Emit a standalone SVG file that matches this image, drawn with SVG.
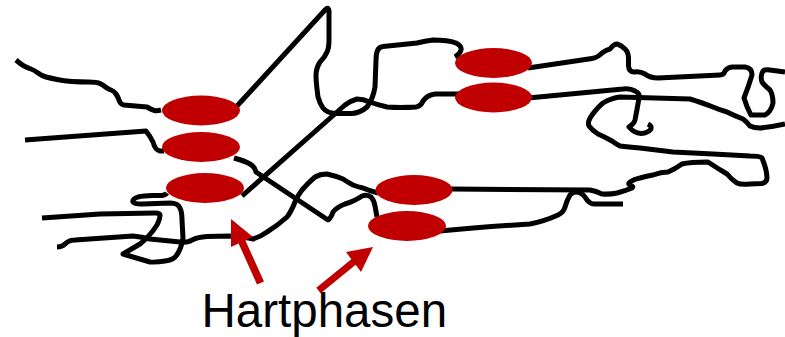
<svg xmlns="http://www.w3.org/2000/svg" width="785" height="337" viewBox="0 0 785 337">
  <style>
    .fibre { fill: none; stroke: #000; stroke-width: 5; stroke-linejoin: round; stroke-linecap: butt; }
    .hard { fill: #c00000; }
    .label { font-family: "Liberation Sans", Arial, sans-serif; font-size: 47.500px; fill: #000; }
  </style>
  <rect width="785" height="337" fill="#fff"/>
  <g id="connectors">
    <path class="fibre" d="M16 60 L19 62.500 Q22 65 25 66.500 Q28 68 31 69 Q34 70 38 73 Q42 76 46 77 Q50 78 57 79.500 Q64 81 72 81.500 Q80 82 88.500 82 Q97 82 100 83.500 Q103 85 105.500 87 Q108 89 111 90 Q114 91 116 94 Q118 97 119 100 Q120 104 124 105 L147 107 Q152 110 154.500 110.500 Q157 111 161 110"/>
    <path class="fibre" d="M25 140 L146 131 Q150 136 153 142 Q155 150 160 151 L164 151"/>
    <path class="fibre" d="M237 106 L325 10 Q328 6 329 11 L329 40 Q329 48 327 52 Q325 57 320 62 Q316 68 316 76 Q316 82 318 97 Q320 104 323 108 Q327 113 335 113.500 L352 113.500 Q360 113 367 107 Q373 99 375 87 L376 60 Q376 47 383 46.500 L417 43 Q425 41 433 40 Q448 40 456 43 Q462 46 461 50 Q460 54 455 57"/>
    <path class="fibre" d="M242 196 L345 105 Q350 101 357 99 Q363 99 370 102 Q378 105 387 107 Q400 108 416 107 Q421 106 423 101 Q427 95 435 94 L460 94"/>
    <path class="fibre" d="M234 158 Q245 161 250 164 Q255 167 256 172 L328 220 Q331 218 333 212 Q337 207 345 204 Q355 201 362 196 Q367 194 371 197 Q374 200 375 206 L377 217"/>
    <path class="fibre" d="M167 193 Q165 196 157 195.500 Q145 195 138 197 Q132 199 133 202 Q135 204.500 143 204 L170 203 Q178 203 180 208 Q182 212 182 220 L183 238 Q181 250 176 256 Q173 260 165 261 Q157 262.500 150 262 Q140 259 123 254 L140 244 Q150 236 157 225 Q160 219 160 215 Q160 213 155 213 L100 214 L42 218"/>
    <path class="fibre" d="M57 247 Q62 247 65 244 Q69 240 75 240 L133 236 Q142 237 150 239 L180 242 Q188 243 192 240 Q198 237 207 236.500 L230 236 Q245 237 253 239 Q260 237 267 232 Q277 226 287 217 Q291 212 295 202 Q298 195 302 190 Q309 182 315 177 Q320 174 327 174 Q336 176 343 179 Q349 183 353 185 Q358 187 363 188 Q370 191 378 193"/>
    <path class="fibre" d="M450 189 L590 190 Q596 191 602 194 Q610 194.500 617 193 Q625 191 632 188 Q634 186 631 186 Q627 184 630 182 Q634 179 640 178 Q647 176 653 175 Q661 172 668 172 Q675 169 682 164 Q690 162 708 162 Q717 168 727 174 Q732 180 737 183 Q741 185 750 184 L762 183.500 Q767 182 767 178 Q767 170 762 158 Q760 156 750 156 L713 154 L673 152 L640 148 Q628 147 620 146 Q616 144 612 141 Q605 137 598 134 Q592 130 589 126 Q587 122 592 115 Q598 107 603 103 Q611 98 620 97 L690 99 Q700 102 713 107 Q720 110 727 112 Q735 116 743 119 Q747 122 750 126 Q754 128 760 128 Q772 127 785 124"/>
    <path class="fibre" d="M528 68 L592 58.500 Q597 58 602 53 Q606 50 610 49 Q614 44 617 44 Q621 45 625 49 Q629 53 628.500 60 L628.500 66 Q629 72 634 72 Q640 71 645 74 Q650 78 658 78 L720 75 Q724 75 725 71 Q728 67 733 67 L745 67 Q752 68 752 75 Q748 88 744 98 Q747 108 751 115 L765 115 Q771 112 773 103 Q773 95 770 90 Q764 85 762 82 Q760 76 763 71 Q765 69 770 70 L785 72"/>
    <path class="fibre" d="M528 98 L623 89 Q630 88 635 91 Q640 93 639 98 Q637 110 635 120 Q634 124 629 127 Q634 133 641 133.500 Q648 133 651 129 Q652 126 648 124"/>
    <path class="fibre" d="M440 231 Q480 227 530 224 Q545 221 558 215 Q564 212 565 207 Q567 200 570 195 Q573 192 576 192 Q581 192 585 197 Q589 204 594 204 L623 204"/>
  </g>
  <g id="hard-phase-1"><ellipse class="hard" cx="201" cy="110.500" rx="39" ry="15"/></g>
  <g id="hard-phase-2"><ellipse class="hard" cx="201" cy="147" rx="39" ry="15"/></g>
  <g id="hard-phase-3"><ellipse class="hard" cx="205" cy="188" rx="39" ry="15"/></g>
  <g id="hard-phase-4"><ellipse class="hard" cx="493.500" cy="63" rx="38.500" ry="15"/></g>
  <g id="hard-phase-5"><ellipse class="hard" cx="493.500" cy="97.500" rx="38.500" ry="15"/></g>
  <g id="hard-phase-6"><ellipse class="hard" cx="414" cy="190" rx="38.500" ry="15"/></g>
  <g id="hard-phase-7"><ellipse class="hard" cx="407" cy="226" rx="39" ry="15"/></g>
  <g id="pointers">
    <polygon class="hard" points="231,219 253,237 245.400,240.500 264,281.500 257,284.500 238.600,243.500 231,247"/>
    <polygon class="hard" points="373,247 361,272 355.700,264.700 320.700,293.200 316.300,287.800 351.300,259.300 346,252"/>
  </g>
  <g id="caption"><text class="label" x="201.500" y="327">Hartphasen</text></g>
</svg>
